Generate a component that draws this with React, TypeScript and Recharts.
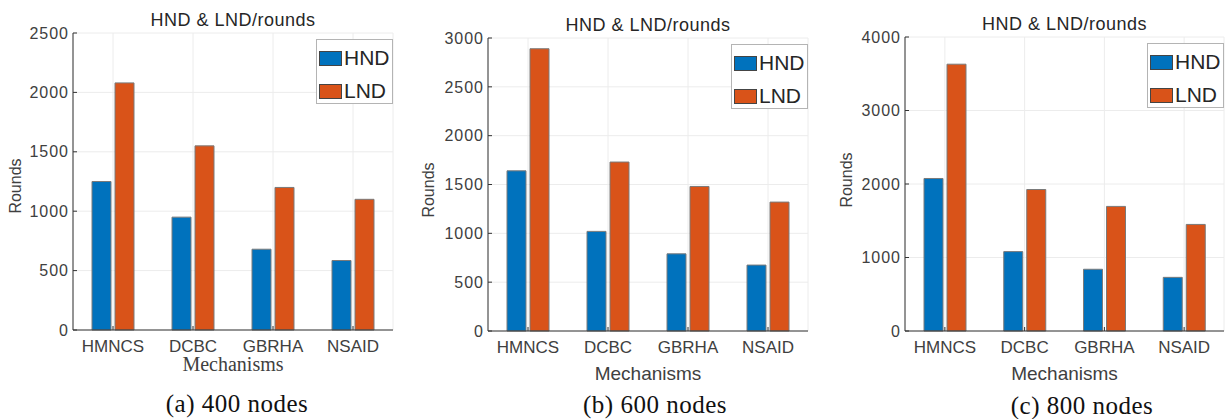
import React from 'react';
import { BarChart, Bar, XAxis, YAxis, CartesianGrid, Legend } from 'recharts';

const categories = ['HMNCS', 'DCBC', 'GBRHA', 'NSAID'];

const hnd400 = [1250, 950, 680, 585];
const lnd400 = [2080, 1550, 1200, 1100];
const hnd600 = [1640, 1020, 790, 675];
const lnd600 = [2890, 1730, 1480, 1320];
const hnd800 = [2075, 1080, 840, 730];
const lnd800 = [3630, 1925, 1695, 1450];

const ticks400 = [0, 500, 1000, 1500, 2000, 2500];
const ticks600 = [0, 500, 1000, 1500, 2000, 2500, 3000];
const ticks800 = [0, 1000, 2000, 3000, 4000];

const captions = ['(a) 400 nodes', '(b) 600 nodes', '(c) 800 nodes'];

const SANS = '"Liberation Sans", Arial, sans-serif';
const SERIF = '"Liberation Serif", "Times New Roman", serif';
const BLUE = '#0072BD';
const ORANGE = '#D95319';
const AXIS = '#333333';

const H = 419;

type PanelProps = {
  x: number;
  w: number;
  l: number;
  r: number;
  t: number;
  b: number;
  hnd: number[];
  lnd: number[];
  ticks: number[];
  titleY: number;
  yLabelX: number;
  yLabelY: number;
  xLabelY: number;
  xLabelSerif: boolean;
  caption: string;
  captionX: number;
  captionY: number;
};

function Centered({ x, y, style, children, rotate }: any) {
  return (
    <div
      style={{
        position: 'absolute',
        left: x,
        top: y,
        transform: `translate(-50%, -50%)${rotate ? ' rotate(-90deg)' : ''}`,
        whiteSpace: 'nowrap',
        lineHeight: 1,
        ...style,
      }}
    >
      {children}
    </div>
  );
}

function LegendBox({ payload }: any) {
  return (
    <div
      style={{
        border: '1px solid #b4b4b4',
        background: '#fff',
        width: 75,
        height: 63,
        boxSizing: 'content-box',
        fontFamily: SANS,
        fontSize: 21,
        color: '#262626',
      }}
    >
      {(payload || []).map((p: any) => (
        <div key={p.value} style={{ display: 'flex', alignItems: 'center', height: 30, paddingLeft: 2, marginTop: 3 }}>
          <span
            style={{
              display: 'inline-block',
              width: 21,
              height: 13,
              background: p.color,
              border: '1px solid #444',
              marginRight: 2,
            }}
          />
          <span>{p.value}</span>
        </div>
      ))}
    </div>
  );
}

function Panel(p: PanelProps) {
  const data = categories.map((name, i) => ({ name, HND: p.hnd[i], LND: p.lnd[i] }));
  const max = p.ticks[p.ticks.length - 1];
  const cx = (p.l + p.r) / 2;
  return (
    <div style={{ position: 'absolute', left: p.x, top: 0, width: p.w, height: H }}>
      <BarChart
        width={p.w}
        height={H}
        data={data}
        margin={{ top: p.t, right: p.w - p.r, left: p.l - 50, bottom: H - p.b - 30 }}
        barSize={19}
        barGap={4}
      >
        <CartesianGrid stroke="#ececec" strokeWidth={1} />
        <XAxis
          dataKey="name"
          height={30}
          tickSize={-4}
          tickMargin={14}
          axisLine={{ stroke: AXIS }}
          tickLine={{ stroke: AXIS }}
          tick={{ fill: '#404040', fontSize: 17, fontFamily: SANS }}
        />
        <XAxis
          xAxisId="top"
          dataKey="name"
          orientation="top"
          height={0}
          tickSize={-4}
          tick={false}
          axisLine={{ stroke: AXIS }}
          tickLine={{ stroke: AXIS }}
        />
        <YAxis
          width={50}
          type="number"
          domain={[0, max]}
          ticks={p.ticks}
          interval={0}
          tickSize={-4}
          tickMargin={8}
          axisLine={{ stroke: AXIS }}
          tickLine={{ stroke: AXIS }}
          tick={{ fill: '#404040', fontSize: 16, fontFamily: SANS, letterSpacing: 1 }}
        />
        <YAxis
          yAxisId="right"
          orientation="right"
          width={0}
          type="number"
          domain={[0, max]}
          ticks={p.ticks}
          interval={0}
          tickSize={-4}
          tick={false}
          axisLine={{ stroke: AXIS }}
          tickLine={{ stroke: AXIS }}
        />
        <Legend
          layout="vertical"
          align="center"
          verticalAlign="middle"
          content={<LegendBox />}
          wrapperStyle={{ left: p.r - 77, top: p.t + 6, width: 77 }}
        />
        <Bar dataKey="HND" name="HND" fill={BLUE} stroke="#7a7a7a" strokeWidth={1} isAnimationActive={false} />
        <Bar dataKey="LND" name="LND" fill={ORANGE} stroke="#7a7a7a" strokeWidth={1} isAnimationActive={false} />
      </BarChart>
      <Centered x={cx} y={p.titleY} style={{ fontFamily: SANS, fontSize: 18, letterSpacing: 0.5, color: '#262626' }}>
        HND &amp; LND/rounds
      </Centered>
      <Centered x={p.yLabelX} y={p.yLabelY} rotate style={{ fontFamily: SANS, fontSize: 16, color: '#404040' }}>
        Rounds
      </Centered>
      <Centered
        x={cx}
        y={p.xLabelY}
        style={{
          fontFamily: p.xLabelSerif ? SERIF : SANS,
          fontSize: p.xLabelSerif ? 20 : 19,
          lineHeight: p.xLabelSerif ? 0.7 : 1,
          color: '#404040',
        }}
      >
        Mechanisms
      </Centered>
      <Centered x={p.captionX} y={p.captionY} style={{ fontFamily: SERIF, fontSize: 25, letterSpacing: 0.5, color: '#111' }}>
        {p.caption}
      </Centered>
    </div>
  );
}

export default function App() {
  return (
    <div style={{ position: 'absolute', left: 0, top: 0, width: 1231, height: H, background: '#fff', overflow: 'hidden' }}>
      <Panel
        x={0} w={410} l={73} r={393} t={33} b={330}
        hnd={hnd400} lnd={lnd400} ticks={ticks400}
        titleY={20} yLabelX={16} yLabelY={186} xLabelY={364} xLabelSerif
        caption={captions[0]} captionX={237} captionY={403}
      />
      <Panel
        x={410} w={410} l={78} r={398} t={38} b={331}
        hnd={hnd600} lnd={lnd600} ticks={ticks600}
        titleY={25} yLabelX={19} yLabelY={190} xLabelY={373} xLabelSerif={false}
        caption={captions[1]} captionX={245} captionY={404}
      />
      <Panel
        x={820} w={411} l={85} r={404} t={37} b={331}
        hnd={hnd800} lnd={lnd800} ticks={ticks800}
        titleY={24} yLabelX={27} yLabelY={180} xLabelY={373} xLabelSerif={false}
        caption={captions[2]} captionX={262} captionY={405}
      />
    </div>
  );
}
